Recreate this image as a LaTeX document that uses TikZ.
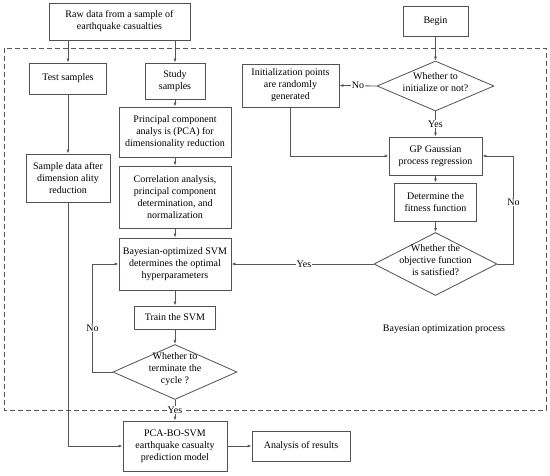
\documentclass[tikz,border=0pt]{standalone}
\usepackage{fontspec}
\setmainfont{Liberation Serif}
\usepackage{tikz}
\usetikzlibrary{positioning, arrows.meta, calc, shapes.geometric}
\definecolor{cBox}{RGB}{80,80,95}
\definecolor{cLine}{RGB}{85,85,90}
% text of a decision node, kept from growing the diamond
\newcommand{\dtext}[1]{\makebox[0pt]{\smash{\begin{tabular}{@{}c@{}}#1\end{tabular}}}}
\tikzset{
  proc/.style={draw=cBox, thick, fill=white, align=center, inner sep=2pt,
    font=\fontsize{10}{12}\selectfont},
  decision/.style={draw=cBox, thick, fill=white, diamond, inner sep=0pt,
    font=\fontsize{10}{12}\selectfont},
  wire/.style={draw=cLine, thick},
  tag/.style={fill=white, inner sep=1pt, font=\fontsize{10}{12}\selectfont}
}

\begin{document}
\begin{tikzpicture}[>={Latex[length=4pt,width=3pt]}, x=1pt, y=-1pt]
    \useasboundingbox (0,0) rectangle (550,476);

    % --- Bayesian optimization frame ---
    \draw[cLine, thick, dash pattern=on 5pt off 3pt] (4,48) rectangle (546,410);
    \node[font=\fontsize{10}{12}\selectfont] (bolabel) at (444,329) {Bayesian optimization process};

    % --- Left column: data and SVM ---
    \node[proc, minimum width=141, minimum height=37] (raw) at (119.5,21.5) {Raw data from a sample of\\earthquake casualties};
    \node[proc, minimum width=77, minimum height=31] (test) at (68,78.5) {Test samples};
    \node[proc, minimum width=60, minimum height=36] (study) at (175,81) {Study\\samples};
    \node[proc, minimum width=112, minimum height=50] (pca) at (175,132) {Principal component\\analys is (PCA) for\\dimensionality reduction};
    \node[proc, minimum width=84, minimum height=48] (sdata) at (68,178) {Sample data after\\dimension ality\\reduction};
    \node[proc, minimum width=112, minimum height=62] (corr) at (175,197) {Correlation analysis,\\principal component\\determination, and\\normalization};
    \node[proc, minimum width=112, minimum height=52] (svm) at (175,264) {Bayesian-optimized SVM\\determines the optimal\\hyperparameters};
    \node[proc, minimum width=81, minimum height=23] (train) at (175,317.5) {Train the SVM};
    \node[decision, minimum width=124, minimum height=55] (term) at (175,372) {\dtext{Whether to\\terminate the\\cycle ?}};
    \node[proc, minimum width=104, minimum height=50] (model) at (175,446) {PCA-BO-SVM\\earthquake casualty\\prediction model};
    \node[proc, minimum width=98, minimum height=30] (result) at (301,446) {Analysis of results};

    % --- Right column: Bayesian optimization ---
    \node[proc, minimum width=65, minimum height=30] (begin) at (435.5,21) {Begin};
    \node[decision, minimum width=117, minimum height=50] (init) at (435.5,86) {\dtext{Whether to\\initialize or not?}};
    \node[proc, minimum width=97, minimum height=43] (rand) at (290.5,85.5) {Initialization points\\are randomly\\generated};
    \node[proc, minimum width=93, minimum height=38] (gp) at (435.5,156) {GP Gaussian\\process regression};
    \node[proc, minimum width=82, minimum height=38] (fit) at (435.5,202) {Determine the\\fitness function};
    \node[decision, minimum width=123, minimum height=63] (obj) at (435.5,264) {\dtext{Whether the\\objective function\\is satisfied?}};

    % --- Wiring, left ---
    \draw[wire, ->] (raw.south -| test.north) -- (test.north);
    \draw[wire, ->] (raw.south -| study.north) -- (study.north);
    \draw[wire, ->] (test) -- (sdata);
    \draw[wire, ->] (study) -- (pca);
    \draw[wire, ->] (pca) -- (corr);
    \draw[wire, ->] (corr) -- (svm);
    \draw[wire, ->] (svm) -- (train);
    \draw[wire, ->] (train) -- (term);
    \draw[wire, ->] (term.west) -- ++(-20,0) coordinate (tl) |- (svm.west);
    \node[tag] (tno) at ($(tl)+(0,-44)$) {No};
    \draw[wire, ->] (term.south) -- (model.north);
    \node[tag] (tyes) at (175,410) {Yes};
    \draw[wire, ->] (sdata.south) |- (model.west);
    \draw[wire, ->] (model) -- (result);

    % --- Wiring, right ---
    \draw[wire, ->] (begin) -- (init);
    \draw[wire, ->] (init.west) -- (rand.east) node[tag, midway] (ino) {No};
    \draw[wire, ->] (init.south) -- (gp.north) node[tag, pos=0.5] (iyes) {Yes};
    \draw[wire, ->] (rand.south) |- (gp.west);
    \draw[wire, ->] (gp) -- (fit);
    \draw[wire, ->] (fit) -- (obj);
    \draw[wire, ->] (obj.east) -- ++(16,0) coordinate (or) |- (gp.east);
    \node[tag] (ono) at ($(or)+(0,-62)$) {No};
    \draw[wire, ->] (obj.west) -- (svm.east) node[tag, pos=0.49] (oyes) {Yes};

\end{tikzpicture}
\end{document}
